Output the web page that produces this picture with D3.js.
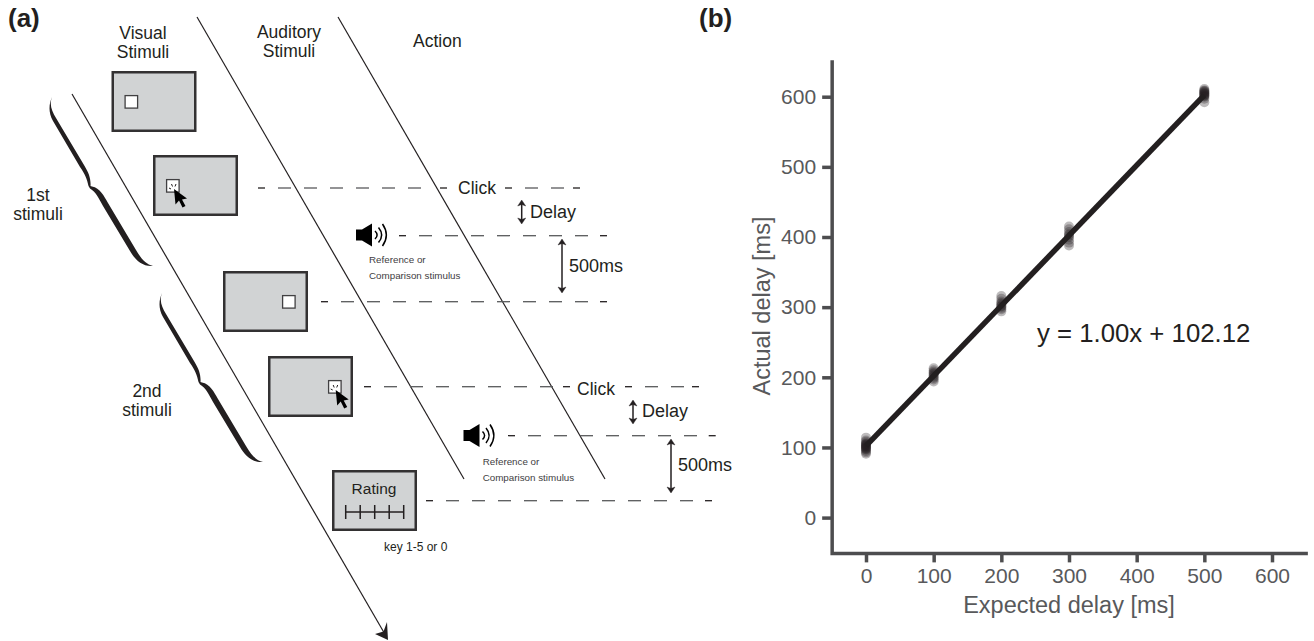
<!DOCTYPE html>
<html>
<head>
<meta charset="utf-8">
<script src="https://cdn.jsdelivr.net/npm/d3@7"></script>
<style>
    html, body { margin: 0; padding: 0; background: #fff; }
    svg { display: block; }
    text { font-family: "Liberation Sans", Arial, sans-serif; }
</style>
</head>
<body>
<div id="figure"></div>
<script>
// panel (b) values
const expectedDelays = [0, 100, 200, 300, 500]
const actualAt0 = [91, 93, 95, 97, 98, 99, 100, 101, 102, 103, 104, 105, 106, 108, 110, 114]
const actualAt100 = [194, 197, 199, 201, 203, 205, 206, 208, 210, 213]
const actualAt200 = [294, 297, 299, 301, 302, 304, 306, 308, 312, 316]
const actualAt300 = [388, 392, 396, 400, 402, 404, 407, 411, 415]
const actualAt500 = [592, 597, 600, 601, 602, 603, 604, 605, 606, 607, 608, 609, 611]
const fitSlope = 1.00
const fitIntercept = 102.12
const xTickValues = [0, 100, 200, 300, 400, 500, 600]
const yTickValues = [0, 100, 200, 300, 400, 500, 600]

// panel (a) labels
const ratingPoints = [1, 2, 3, 4, 5]

const width = 1314, height = 641
const ink = '#231f20', grey = '#58595b', axisGrey = '#4d4d4f', boxFill = '#d1d3d4'

var svg = d3.select('#figure').append('svg')
    .attr('width', width)
    .attr('height', height)
    .attr('viewBox', `0 0 ${width} ${height}`)

const label = (x, y, str, size, opts = {}) => svg.append('text')
    .attr('x', x)
    .attr('y', y)
    .attr('text-anchor', opts.anchor || 'start')
    .attr('fill', opts.fill || ink)
    .attr('font-weight', opts.weight || 'normal')
    .style('font-size', size + 'px')
    .text(str)

/*
    PANEL A - trial schematic
*/
label(8, 27, '(a)', 26, { weight: 'bold' })
label(699, 27, '(b)', 26, { weight: 'bold' })

label(143, 39, 'Visual', 17.5, { anchor: 'middle' })
label(143, 58, 'Stimuli', 17.5, { anchor: 'middle' })
label(289, 38, 'Auditory', 17.5, { anchor: 'middle' })
label(289, 57, 'Stimuli', 17.5, { anchor: 'middle' })
label(413, 47, 'Action', 17.5)
label(38, 201, '1st', 17.5, { anchor: 'middle' })
label(38, 220, 'stimuli', 17.5, { anchor: 'middle' })
label(147, 397, '2nd', 17.5, { anchor: 'middle' })
label(147, 416, 'stimuli', 17.5, { anchor: 'middle' })

// diagonal time lines
const diagonal = (x1, y1, x2, y2, w) => svg.append('line')
    .attr('x1', x1).attr('y1', y1).attr('x2', x2).attr('y2', y2)
    .attr('stroke', ink)
    .attr('stroke-width', w || 1.2)

diagonal(197, 17, 464, 479)
diagonal(338, 17, 605, 479)
diagonal(72, 94, 386, 636)
svg.append('path')
    .attr('d', 'M388,640 L375,634 L383.5,631.5 L387,622 Z')
    .attr('fill', ink)

// stimulus screens
const screen = (x, y) => svg.append('rect')
    .attr('x', x + 1.25).attr('y', y + 1.25)
    .attr('width', 82.5).attr('height', 58.5)
    .attr('fill', boxFill)
    .attr('stroke', '#333132')
    .attr('stroke-width', 2.5)

const target = (x, y) => svg.append('rect')
    .attr('x', x + 0.6).attr('y', y + 0.6)
    .attr('width', 12.5).attr('height', 12.5)
    .attr('fill', '#fff')
    .attr('stroke', '#414042')
    .attr('stroke-width', 1.3)

const cursor = (x, y) => {
    var g = svg.append('g').attr('transform', `translate(${x},${y})`)
    // click sparks
    g.selectAll('line')
        .data([[-5, -1, -3, 0], [-2.5, -5, -1.5, -2.5], [2, -5, 1, -2.5]])
        .enter().append('line')
        .attr('x1', d => d[0]).attr('y1', d => d[1])
        .attr('x2', d => d[2]).attr('y2', d => d[3])
        .attr('stroke', ink)
        .attr('stroke-width', 1)
    g.append('path')
        .attr('d', 'M0,0 L13,9.5 L8,10.5 L11.5,17 L8.5,18.5 L5,11.5 L1.5,15.5 Z')
        .attr('fill', '#000')
}

screen(111.5, 71)
target(124.5, 95)
screen(153, 155)
target(166, 179)
cursor(174, 189)
screen(223, 271)
target(282, 295)
screen(268, 356)
target(328, 380)
cursor(335.7, 390)
screen(332, 470)

label(374, 494, 'Rating', 15.5, { anchor: 'middle' })
var ratingScale = d3.scalePoint().domain(ratingPoints).range([345.7, 403.7])
svg.append('line')
    .attr('x1', ratingScale(1)).attr('x2', ratingScale(5))
    .attr('y1', 512).attr('y2', 512)
    .attr('stroke', ink).attr('stroke-width', 1.5)
svg.selectAll('.ratingTick')
    .data(ratingPoints)
    .enter().append('line')
    .attr('class', 'ratingTick')
    .attr('x1', d => ratingScale(d)).attr('x2', d => ratingScale(d))
    .attr('y1', 505).attr('y2', 519)
    .attr('stroke', ink).attr('stroke-width', 1.5)
label(384, 551, 'key 1-5 or 0', 12)

// dashed event lines, short black dash at both ends, grey dashes between
const eventLine = (x1, x2, y) => {
    svg.append('line')
        .attr('x1', x1).attr('x2', x1 + 7).attr('y1', y).attr('y2', y)
        .attr('stroke', ink).attr('stroke-width', 1.3)
    svg.append('line')
        .attr('x1', x2 - 7).attr('x2', x2).attr('y1', y).attr('y2', y)
        .attr('stroke', ink).attr('stroke-width', 1.3)
    for (var x = x1 + 20; x + 13 < x2 - 7; x += 26) {
        svg.append('line')
            .attr('x1', x).attr('x2', x + 13).attr('y1', y).attr('y2', y)
            .attr('stroke', grey).attr('stroke-width', 1.3)
    }
}

eventLine(258, 447, 188)
eventLine(505, 580, 188)
eventLine(399, 607, 235.7)
eventLine(321, 607, 301.7)
eventLine(364, 570, 386.7)
eventLine(625, 699, 386.7)
eventLine(508, 715.7, 435.7)
eventLine(426, 712, 500.7)

label(458, 194, 'Click', 17.5)
label(577, 395, 'Click', 17.5)
label(530, 218, 'Delay', 18)
label(642, 417, 'Delay', 18)
label(569, 272, '500ms', 18)
label(678, 471, '500ms', 18)

// two headed arrows
const doubleArrow = (x, y1, y2) => {
    svg.append('line')
        .attr('x1', x).attr('x2', x).attr('y1', y1 + 3).attr('y2', y2 - 3)
        .attr('stroke', ink).attr('stroke-width', 1.5)
    svg.append('path')
        .attr('d', `M${x},${y1} L${x + 4},${y1 + 6} L${x},${y1 + 4.5} L${x - 4},${y1 + 6} Z`
            + `M${x},${y2} L${x + 4},${y2 - 6} L${x},${y2 - 4.5} L${x - 4},${y2 - 6} Z`)
        .attr('fill', ink)
        .attr('stroke', ink)
        .attr('stroke-width', 0.4)
}
doubleArrow(521.7, 200, 224)
doubleArrow(633, 400, 424)
doubleArrow(562, 239, 293)
doubleArrow(671, 439, 493)

// speaker icon with its caption
const speaker = (dx, dy, x, y1, y2) => {
    var g = svg.append('g').attr('transform', `translate(${dx},${dy})`)
    g.append('path')
        .attr('d', 'M356,229.5 L362,229.5 L372,223.5 L372,246.5 L362,240.5 L356,240.5 Z')
        .attr('fill', '#000')
    g.selectAll('path.wave')
        .data([[375, 231, 239, 3], [378.5, 227.5, 242.5, 4.5], [382.5, 224, 246, 5.5]])
        .enter().append('path')
        .attr('class', 'wave')
        .attr('d', d => `M${d[0]},${d[1]} Q${d[0] + d[3] * 1.4},${(d[1] + d[2]) / 2} ${d[0]},${d[2]}`)
        .attr('fill', 'none')
        .attr('stroke', '#000')
        .attr('stroke-width', 1.5)
    label(x, y1, 'Reference or', 9.8, { fill: '#414042' })
    label(x, y2, 'Comparison stimulus', 9.8, { fill: '#414042' })
}
speaker(0, 0, 369, 262.5, 279)
speaker(107.5, 200.5, 482.7, 465, 481)

// curly braces
const bracePath = 'M52,97 C49,105 52,111 56,118 L84,165 C89,173 91,179 90.5,186 L92,186.5 '
    + 'C100,188 104,196 108,203 L136,250 C142,260 146,264 153,266 '
    + 'C143,267 135,260 130,251 L103,206 C98,197 96,192 90,188.5 L88.5,186 '
    + 'C87,179 85,174 80,167 L53,121 C48,112 49,104 52,97 Z'
svg.append('path').attr('d', bracePath).attr('fill', ink)
svg.append('path').attr('d', bracePath).attr('fill', ink)
    .attr('transform', 'translate(110,196)')

/*
    PANEL B - expected vs actual delay
*/
var xScale = d3.scaleLinear().domain([0, 600]).range([866, 1272])
var yScale = d3.scaleLinear().domain([0, 600]).range([517.6, 96.7])
const axisX = xScale(-50), axisRight = xScale(653)
const axisY = yScale(-51), axisTop = yScale(652)

const actualByExpected = [actualAt0, actualAt100, actualAt200, actualAt300, actualAt500]
const points = expectedDelays.flatMap((x, i) => actualByExpected[i].map(y => ({ x, y })))

svg.append('g')
    .selectAll('circle')
    .data(points)
    .enter().append('circle')
    .attr('cx', d => xScale(d.x))
    .attr('cy', d => yScale(d.y))
    .attr('r', 5)
    .attr('fill', ink)
    .attr('opacity', 0.3)

var fitLine = d3.line().x(d => xScale(d)).y(d => yScale(fitSlope * d + fitIntercept))
svg.append('path')
    .attr('d', fitLine([0, 500]))
    .attr('fill', 'none')
    .attr('stroke', ink)
    .attr('stroke-width', 5.5)

const styleAxis = (g) => {
    g.select('.domain').remove()
    g.selectAll('line').attr('stroke', axisGrey).attr('stroke-width', 3.5)
    g.selectAll('text')
        .attr('fill', grey)
        .style('font-size', '21px')
        .style('font-family', '"Liberation Sans", Arial, sans-serif')
}

svg.append('g')
    .attr('transform', `translate(0,${axisY})`)
    .call(d3.axisBottom(xScale).tickValues(xTickValues).tickSize(9).tickPadding(6))
    .call(styleAxis)
svg.append('g')
    .attr('transform', `translate(${axisX},0)`)
    .call(d3.axisLeft(yScale).tickValues(yTickValues).tickSize(10).tickPadding(6))
    .call(styleAxis)

// open axes: only left and bottom spines, joined at the corner
svg.append('path')
    .attr('d', `M${axisX},${axisTop} L${axisX},${axisY} L${axisRight},${axisY}`)
    .attr('fill', 'none')
    .attr('stroke', axisGrey)
    .attr('stroke-width', 3.5)

label(1069, 613, 'Expected delay [ms]', 23.5, { anchor: 'middle', fill: grey })
label(0, 0, 'Actual delay [ms]', 23.5, { anchor: 'middle', fill: grey })
    .attr('transform', 'translate(770,306) rotate(-90)')
label(1037, 342, 'y = 1.00x + 102.12', 28 * 0.92, { fill: ink })
</script>
</body>
</html>
